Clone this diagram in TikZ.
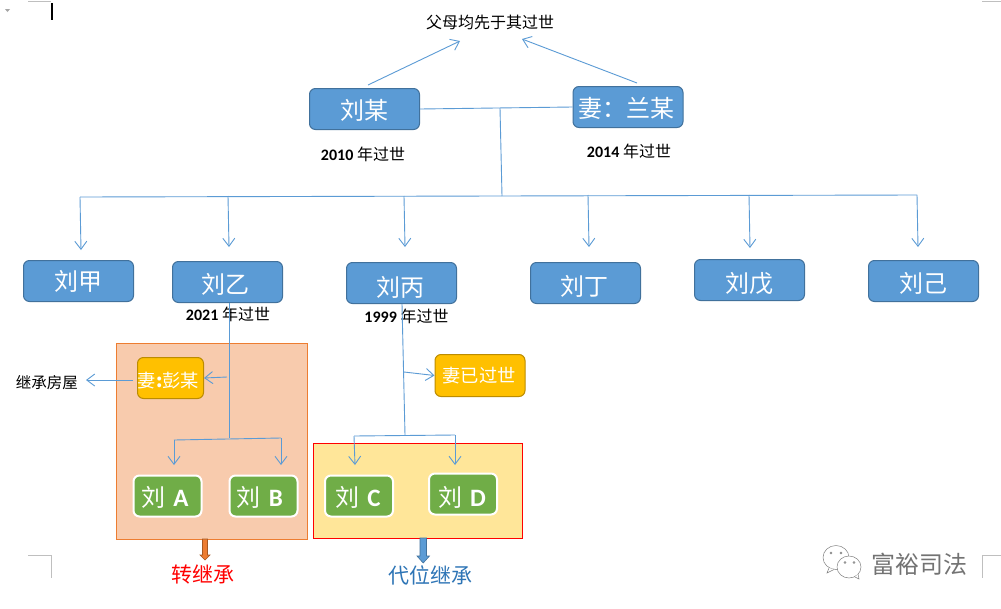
\documentclass[tikz,border=0pt]{standalone}
\usepackage{fontspec}
\setmainfont{Carlito}
\newfontfamily\cjk{Noto Sans CJK SC}
\usetikzlibrary{arrows.meta}
\definecolor{cblue}{HTML}{5B9BD5}
\definecolor{cblueb}{HTML}{41719C}
\definecolor{cgold}{HTML}{FFC000}
\definecolor{cgoldb}{HTML}{BC8C00}
\definecolor{cgreen}{HTML}{70AD47}
\definecolor{corange}{HTML}{F8CBAD}
\definecolor{corangeb}{HTML}{ED7D31}
\definecolor{cyel}{HTML}{FFE699}
\definecolor{clab}{HTML}{2E75B6}
\newcommand{\fs}[1]{\fontsize{#1}{#1}\selectfont}
\tikzset{
  x=1pt,y=-1pt,
  bluebox/.style={draw=cblueb,fill=cblue,line width=1pt,rounded corners=6pt,minimum width=110pt,minimum height=41pt,inner sep=0pt},
  goldbox/.style={draw=cgoldb,fill=cgold,line width=1pt,rounded corners=6pt,inner sep=0pt},
  greenbox/.style={draw=white,fill=cgreen,line width=2pt,rounded corners=6pt,minimum width=68pt,minimum height=41pt,inner sep=0pt},
  boxtext/.style={text=white,font=\fs{24}\cjk,inner sep=0pt},
  smalltext/.style={text=white,font=\fs{18.3}\cjk,inner sep=0pt},
  note/.style={text=black,font=\fs{16},inner sep=0pt},
  link/.style={draw=cblue,line width=0.9pt},
  arr/.style={link,-{Straight Barb[length=8pt,width=12pt,line width=0.9pt]}},
  cropmark/.style={draw=black!25,line width=0.7pt},
}
\begin{document}
\begin{tikzpicture}
\useasboundingbox (0,0) rectangle (1001,608);
\fill[white] (0,0) rectangle (1001,608);
% page marks
\draw[cropmark] (28,1) -- (51,1);
\draw[cropmark] (982,1) -- (1001,1);
\draw[cropmark] (28,555) -- (51,555) -- (51,578);
\draw[cropmark] (1001,555) -- (982,555) -- (982,578);
\fill[black!35] (5,9) -- (10,9) -- (7.5,12) -- cycle;
\fill[black] (51,3) rectangle (53,20);
% coloured areas
\node[draw=corangeb,fill=corange,line width=0.9pt,minimum width=191pt,minimum height=196pt,inner sep=0pt] (areaA) at (212,441) {};
\node[draw=red,fill=cyel,line width=0.9pt,minimum width=209pt,minimum height=95pt,inner sep=0pt] (areaB) at (418,491) {};
% boxes
\node[bluebox] (mou) at (364.5,109) {}; \node[boxtext] (moutx) at (364,110) {刘某};
\node[bluebox] (lan) at (628,107) {}; \node[boxtext] (lantx) at (626.5,108) {妻：兰某};
\node[bluebox] (jia) at (78.5,281) {}; \node[boxtext] (jiatx) at (78,281) {刘甲};
\node[bluebox] (yi) at (227.5,282) {}; \node[boxtext] (yitx) at (225,284) {刘乙};
\node[bluebox] (bing) at (401.5,283) {}; \node[boxtext] (bingtx) at (400,287) {刘丙};
\node[bluebox] (ding) at (585.5,283) {}; \node[boxtext] (dingtx) at (584,286) {刘丁};
\node[bluebox] (wu) at (749.5,280) {}; \node[boxtext] (wutx) at (749.5,284) {刘戊};
\node[bluebox] (ji) at (923.5,281) {}; \node[boxtext] (jitx) at (923.5,283) {刘己};
\node[goldbox,minimum width=66pt,minimum height=41pt] (peng) at (170.5,378) {};
\node[smalltext] (pengtx) at (168.5,381) {妻{\bfseries:}彭某};
\node[goldbox,minimum width=90pt,minimum height=42pt] (yigu) at (480,375.5) {};
\node[smalltext] (yigutx) at (479,376) {妻已过世};
\node[greenbox] (la) at (167.5,496) {}; \node[boxtext] (latx) at (165,497) {刘\,\,{\fs{25}\normalfont\bfseries A}};
\node[greenbox] (lb) at (263.5,496) {}; \node[boxtext] (lbtx) at (260,497) {刘\,\,{\fs{25}\normalfont\bfseries B}};
\node[greenbox] (lc) at (359,496) {}; \node[boxtext] (lctx) at (358,497) {刘\,\,{\fs{25}\normalfont\bfseries C}};
\node[greenbox] (ld) at (463,494) {}; \node[boxtext] (ldtx) at (462,497) {刘\,\,{\fs{25}\normalfont\bfseries D}};
% notes
\node[note,font=\fs{16}\cjk] (top) at (490,22.5) {父母均先于其过世};
\node[note] (n2010) at (363,154) {\textbf{2010} {\cjk 年过世}};
\node[note] (n2014) at (629,151) {\textbf{2014} {\cjk 年过世}};
\node[note] (n2021) at (228,314.5) {\textbf{2021} {\cjk 年过世}};
\node[note] (n1999) at (406.5,316.5) {\textbf{1999} {\cjk 年过世}};
\node[note,font=\fs{15.5}\cjk] (house) at (47,382.5) {继承房屋};
\node[inner sep=0pt,text=red,font=\fs{21}\cjk] (zhuan) at (203,575) {转继承};
\node[inner sep=0pt,text=clab,font=\fs{21}\cjk] (daiwei) at (430,575) {代位继承};
% connector points
\coordinate (a1s) at (368,85); \coordinate (a1e) at (460,41);
\coordinate (a2s) at (637,83); \coordinate (a2e) at (522,39);
\coordinate (trunkT) at (500,108); \coordinate (trunkB) at (502,196);
\coordinate (barL) at (80,197); \coordinate (barR) at (917,195);
\coordinate (d1) at (81,250); \coordinate (t2) at (228,196); \coordinate (d2) at (229,247);
\coordinate (t3) at (404,196); \coordinate (d3) at (405,247);
\coordinate (t4) at (588,195); \coordinate (d4) at (589,247);
\coordinate (t5) at (749,195); \coordinate (d5) at (750,248);
\coordinate (d6) at (918,247);
\coordinate (yT) at (229,303); \coordinate (yB) at (229,438); \coordinate (yL) at (174,440); \coordinate (yR) at (281,438);
\coordinate (yLd) at (174,465); \coordinate (yRd) at (281,465);
\coordinate (yM) at (227,377);
\coordinate (bT) at (402,304); \coordinate (bB) at (405,435); \coordinate (bM) at (404,372);
\coordinate (bL) at (354,436); \coordinate (bR) at (455,435);
\coordinate (bLd) at (355,465); \coordinate (bRd) at (455,465);
\coordinate (pW) at (133,380); \coordinate (hE) at (86,380);
% connectors
\draw[arr] (a1s) -- (a1e);
\draw[arr] (a2s) -- (a2e);
\draw[link] (mou.east) -- (lan.west);
\draw[link] (trunkT) -- (trunkB);
\draw[link] (barL) -- (barR);
\draw[arr] (barL) -- (d1);
\draw[arr] (t2) -- (d2);
\draw[arr] (t3) -- (d3);
\draw[arr] (t4) -- (d4);
\draw[arr] (t5) -- (d5);
\draw[arr] (barR) -- (d6);
\draw[link] (yT) -- (yB);
\draw[link] (yL) -- (yR);
\draw[arr] (yL) -- (yLd);
\draw[arr] (yR) -- (yRd);
\draw[arr] (yM) -- (peng.east);
\draw[arr] (pW) -- (hE);
\draw[link] (bT) -- (bB);
\draw[link] (bL) -- (bR);
\draw[arr] (bL) -- (bLd);
\draw[arr] (bR) -- (bRd);
\draw[arr] (bM) -- (yigu.west);
% block arrows
\draw[draw=corangeb!70!black,fill=corangeb,line width=0.6pt] (202.5,539) -- (207.5,539) -- (207.5,555) -- (210,555) -- (205,560) -- (200,555) -- (202.5,555) -- cycle;
\draw[draw=cblueb,fill=cblue,line width=0.6pt] (420,538) -- (426.5,538) -- (426.5,556) -- (429.5,556) -- (423.2,563) -- (417,556) -- (420,556) -- cycle;
% watermark
\begin{scope}[draw=black!50,line width=0.5pt]
\draw[fill=white] (836,557.5) ellipse [x radius=13, y radius=12];
\draw[fill=white] (829,568) -- (827,573) -- (834,569.5);
\draw[fill=white] (849,567) ellipse [x radius=12, y radius=11];
\draw[fill=white] (855,577) -- (859,579) -- (858,574);
\foreach \p in {(831,553),(841,553),(845,562.5),(854,562.5)} \draw \p circle (1);
\end{scope}
\node[inner sep=0pt,text=black!55,font=\fs{24}\cjk] (wm) at (919.5,564) {富裕司法};
\end{tikzpicture}
\end{document}
